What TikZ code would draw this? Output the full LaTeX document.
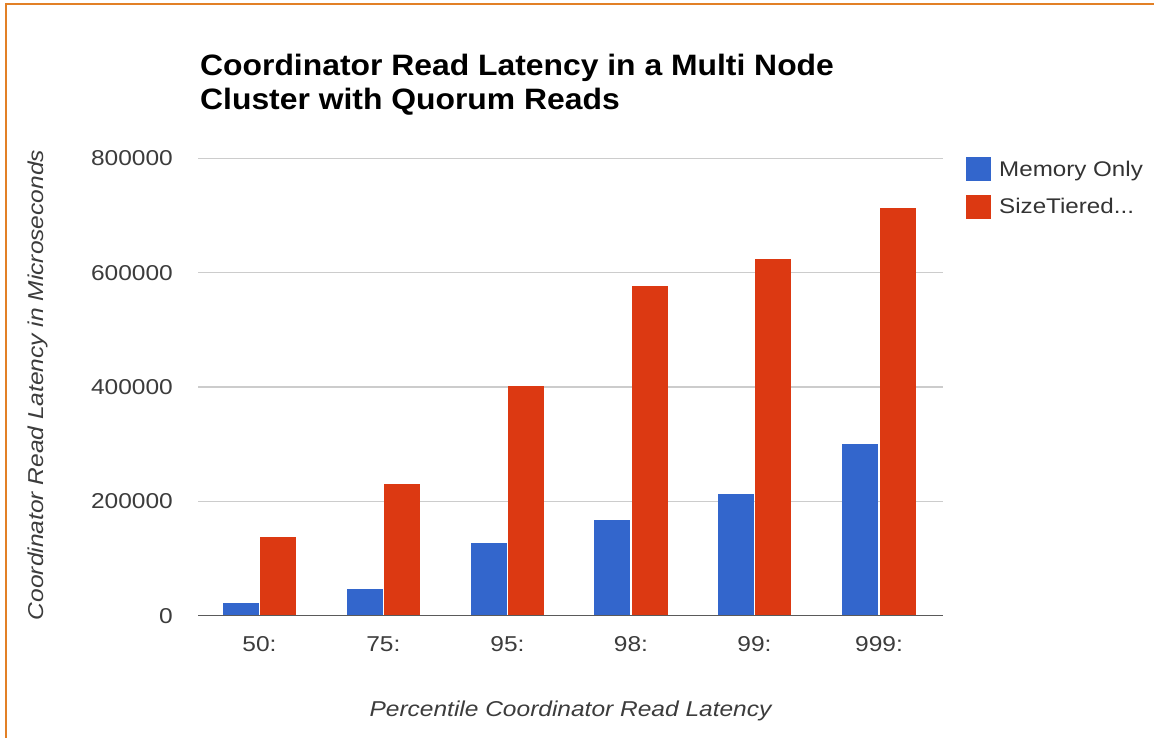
\documentclass[tikz,border=0pt]{standalone}
\usepackage{fontspec}
\setmainfont{Liberation Sans}
\newfontfamily\chartfont[FakeStretch=1.14]{Liberation Sans}
\newfontfamily\headfont[FakeStretch=1.08]{Liberation Sans}

\definecolor{memblue}{RGB}{51,102,204}
\definecolor{stred}{RGB}{220,57,18}
\definecolor{gridgray}{RGB}{204,204,204}
\definecolor{axisgray}{RGB}{90,90,90}
\definecolor{labelgray}{RGB}{60,60,60}
\definecolor{frameorange}{RGB}{226,128,38}

\tikzset{
  x=1pt, y=-1pt,
  gridline/.style={draw=gridgray, line width=1.3pt},
  baseline axis/.style={draw=axisgray, line width=1.8pt},
  ticklabel/.style={inner sep=0pt, anchor=base east, text=labelgray,
    font=\chartfont\fontsize{21.5}{26}\selectfont},
  catlabel/.style={inner sep=0pt, anchor=base, text=labelgray,
    font=\chartfont\fontsize{21.5}{26}\selectfont},
  axistitle/.style={inner sep=0pt, anchor=base, text=labelgray,
    font=\chartfont\itshape\fontsize{21.5}{26}\selectfont},
  legendtext/.style={inner sep=0pt, anchor=base west, text=black!80,
    font=\chartfont\fontsize{21.2}{26}\selectfont},
  titletext/.style={inner sep=0pt, anchor=base west, text=black,
    font=\headfont\bfseries\fontsize{29.5}{34}\selectfont},
  memfill/.style={fill=memblue},
  stfill/.style={fill=stred},
  frame/.style={draw=frameorange, line width=1.5pt},
}

\begin{document}
\begin{tikzpicture}
  % page area
  \fill[white] (0,0) rectangle (1154,738);
  \useasboundingbox (0,0) rectangle (1154,738);

  % orange frame (top and left edges)
  \draw[frame] (6,740) -- (6,4) -- (1156,4);

  % title
  \node[titletext] (title1) at (200,76) {Coordinator Read Latency in a Multi Node};
  \node[titletext] (title2) at (200,110) {Cluster with Quorum Reads};

  % horizontal gridlines (values in thousands)
  \foreach \v in {200, 400, 600, 800} {
    \draw[gridline] (198,615.5-\v*0.5715) -- (943,615.5-\v*0.5715);
  }
  \foreach \v/\lab [count=\k] in {0/0, 200/200000, 400/400000, 600/600000, 800/800000} {
    \node[ticklabel] (tick\k) at (173,623.2-\v*0.5715) {\lab};
  }

  % bars: group centre / Memory Only / SizeTiered (in thousands)
  \foreach \c/\b/\r/\lab [count=\i] in {
      259.5/22.4/137.9/50:, 383.4/46.4/230.1/75:, 507.5/127.4/401.0/95:,
      631/167.1/577.1/98:, 754.5/212.1/623.3/99:, 879/299.6/713.6/999:} {
    \fill[memfill] (\c-36.8,615.5) rectangle (\c-0.9,615.5-\b*0.5715);
    \fill[stfill] (\c+0.9,615.5) rectangle (\c+36.8,615.5-\r*0.5715);
    \node[catlabel] (cat\i) at (\c,651.7) {\lab};
  }

  % zero line
  \draw[baseline axis] (198,615.5) -- (943,615.5);

  % axis titles
  \node[axistitle] (xtitle) at (570.5,716) {Percentile Coordinator Read Latency};
  \node[axistitle, rotate=90] (ytitle) at (43,385) {Coordinator Read Latency in Microseconds};

  % legend
  \fill[memfill] (966,157.3) rectangle (990.7,180.7);
  \node[legendtext] (legmem) at (999,177) {Memory Only};
  \fill[stfill] (966,195) rectangle (990.7,219.3);
  \node[legendtext] (legst) at (999,214) {SizeTiered...};
\end{tikzpicture}
\end{document}
